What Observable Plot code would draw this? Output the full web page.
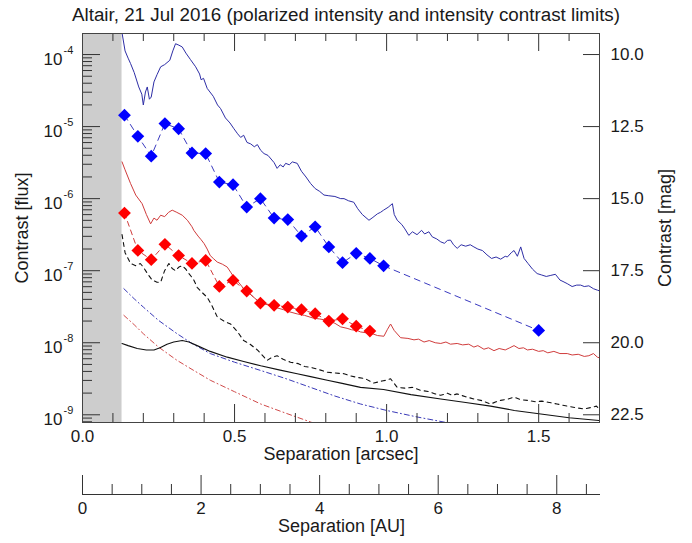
<!DOCTYPE html>
<html><head><meta charset="utf-8">
<script src="https://cdn.jsdelivr.net/npm/d3@7"></script>
<script src="https://cdn.jsdelivr.net/npm/@observablehq/plot@0.6"></script>
<style>
body{margin:0;background:#fff;font-family:"Liberation Sans",Arial,Helvetica,sans-serif;}
#title{height:28px;line-height:29px;font-size:18.8px;text-align:center;width:692px;color:#1a1a1a;white-space:nowrap;}
svg{display:block;}
</style></head><body>
<div id="title">Altair, 21 Jul 2016 (polarized intensity and intensity contrast limits)</div>
<div id="main"></div>
<div id="au"></div>
<script>
// ---------------- data ----------------
const maskRadius = 0.13;            // arcsec, coronagraph mask (grey)
const auPerArcsec = 5.13;           // distance of Altair in pc
const xTicksMajor = [0, 0.5, 1.0, 1.5];
const xTicksMinor = [0.1,0.2,0.3,0.4,0.6,0.7,0.8,0.9,1.1,1.2,1.3,1.4,1.6,1.7];
const yTickExponents = [-4, -5, -6, -7, -8, -9];
const magTicks = [10.0, 12.5, 15.0, 17.5, 20.0, 22.5];
const auTicksMajor = [0, 2, 4, 6, 8];
const auTicksMinor = [0.5,1,1.5,2.5,3,3.5,4.5,5,5.5,6.5,7,7.5,8.5];

// diamonds: polarized intensity (blue) and intensity (red) contrast
const sepBlueDiamonds = [0.138,0.182,0.226,0.271,0.316,0.36,0.405,0.45,0.495,0.54,0.585,0.63,0.675,0.72,0.765,0.81,0.855,0.90,0.945,0.99,1.50];
const blueDiamonds = [1.44e-5,7.33e-6,3.89e-6,1.10e-5,9.33e-6,4.30e-6,4.22e-6,1.70e-6,1.56e-6,7.64e-7,1.0e-6,5.37e-7,5.13e-7,3.02e-7,4.07e-7,2.14e-7,1.29e-7,1.74e-7,1.48e-7,1.17e-7,1.48e-8];
const sepRedDiamonds = [0.138,0.182,0.226,0.271,0.316,0.36,0.405,0.45,0.495,0.54,0.585,0.63,0.675,0.72,0.765,0.81,0.855,0.90,0.945];
const redDiamonds = [6.31e-7,1.91e-7,1.42e-7,2.32e-7,1.62e-7,1.26e-7,1.39e-7,6.05e-8,7.33e-8,5.21e-8,3.55e-8,3.31e-8,3.13e-8,2.88e-8,2.53e-8,2.0e-8,2.15e-8,1.70e-8,1.45e-8];

// curves, stored as log10(contrast)
const sepBlueLine = [0.13,0.14,0.15,0.158,0.17,0.185,0.195,0.2,0.207,0.213,0.22,0.226,0.235,0.245,0.257,0.27,0.287,0.297,0.306,0.317,0.328,0.34,0.355,0.372,0.385,0.39,0.398,0.41,0.43,0.444,0.454,0.47,0.485,0.498,0.51,0.52,0.53,0.541,0.553,0.565,0.575,0.586,0.597,0.61,0.62,0.63,0.64,0.65,0.66,0.668,0.68,0.69,0.706,0.72,0.735,0.75,0.765,0.78,0.794,0.81,0.83,0.849,0.86,0.875,0.892,0.905,0.92,0.942,0.955,0.97,0.98,0.99,1.005,1.019,1.025,1.035,1.05,1.06,1.073,1.085,1.1,1.115,1.125,1.139,1.15,1.165,1.178,1.19,1.2,1.21,1.22,1.232,1.245,1.26,1.275,1.287,1.3,1.315,1.33,1.345,1.36,1.375,1.39,1.397,1.41,1.419,1.43,1.441,1.452,1.465,1.48,1.495,1.51,1.525,1.54,1.555,1.57,1.58,1.594,1.61,1.625,1.638,1.65,1.665,1.68,1.693,1.70];
const logBlueLine = [-3.70,-3.95,-4.05,-4.125,-4.25,-4.45,-4.55,-4.70,-4.52,-4.45,-4.62,-4.59,-4.38,-4.28,-4.17,-4.14,-4.08,-3.95,-3.85,-3.87,-3.895,-3.98,-4.07,-4.17,-4.27,-4.35,-4.33,-4.47,-4.58,-4.70,-4.75,-4.88,-4.95,-5.03,-5.10,-5.15,-5.12,-5.22,-5.24,-5.28,-5.25,-5.33,-5.375,-5.40,-5.45,-5.50,-5.58,-5.53,-5.56,-5.51,-5.53,-5.49,-5.51,-5.62,-5.70,-5.79,-5.86,-5.90,-5.95,-5.96,-5.97,-6.0,-6.0,-6.03,-6.05,-6.14,-6.22,-6.30,-6.26,-6.21,-6.19,-6.16,-6.12,-6.07,-6.22,-6.30,-6.36,-6.42,-6.51,-6.46,-6.50,-6.44,-6.49,-6.46,-6.53,-6.56,-6.60,-6.62,-6.58,-6.575,-6.64,-6.69,-6.64,-6.66,-6.64,-6.67,-6.70,-6.72,-6.78,-6.83,-6.81,-6.84,-6.80,-6.81,-6.75,-6.72,-6.80,-6.67,-6.83,-6.90,-6.98,-7.04,-7.06,-7.08,-7.065,-7.05,-7.13,-7.15,-7.18,-7.22,-7.20,-7.20,-7.22,-7.21,-7.25,-7.27,-7.28];

const sepRedLine = [0.13,0.14,0.158,0.175,0.196,0.21,0.224,0.235,0.245,0.257,0.27,0.283,0.295,0.31,0.328,0.345,0.36,0.366,0.38,0.39,0.40,0.41,0.42,0.43,0.443,0.46,0.476,0.487,0.498,0.515,0.53,0.55,0.574,0.6,0.63,0.66,0.68,0.706,0.73,0.76,0.78,0.805,0.83,0.849,0.87,0.885,0.903,0.914,0.93,0.95,0.97,0.991,1.002,1.013,1.025,1.046,1.07,1.09,1.105,1.123,1.14,1.16,1.178,1.195,1.21,1.232,1.25,1.27,1.287,1.3,1.32,1.335,1.353,1.37,1.39,1.405,1.419,1.435,1.45,1.463,1.48,1.5,1.515,1.53,1.55,1.57,1.594,1.61,1.63,1.65,1.665,1.68,1.693,1.70];
const logRedLine = [-5.49,-5.60,-5.79,-5.95,-6.07,-6.22,-6.35,-6.27,-6.30,-6.23,-6.25,-6.19,-6.16,-6.19,-6.23,-6.30,-6.39,-6.44,-6.52,-6.57,-6.625,-6.70,-6.79,-6.83,-6.88,-6.91,-6.95,-7.02,-7.09,-7.17,-7.25,-7.32,-7.41,-7.46,-7.505,-7.54,-7.57,-7.60,-7.62,-7.66,-7.67,-7.69,-7.73,-7.78,-7.80,-7.82,-7.83,-7.85,-7.86,-7.87,-7.90,-7.91,-7.82,-7.74,-7.83,-7.93,-7.94,-7.96,-7.95,-7.99,-7.97,-8.0,-8.01,-7.99,-8.02,-8.01,-8.03,-8.02,-8.06,-8.04,-8.09,-8.07,-8.11,-8.08,-8.10,-8.07,-8.04,-8.08,-8.07,-8.10,-8.09,-8.12,-8.11,-8.14,-8.12,-8.15,-8.15,-8.17,-8.16,-8.19,-8.18,-8.15,-8.20,-8.21];

const sepBlackLine = [0.13,0.15,0.18,0.21,0.235,0.255,0.278,0.30,0.328,0.35,0.377,0.42,0.476,0.53,0.586,0.65,0.706,0.75,0.805,0.85,0.914,0.99,1.08,1.178,1.26,1.342,1.42,1.507,1.6,1.70];
const logBlackLine = [-8.01,-8.04,-8.08,-8.10,-8.10,-8.07,-8.02,-7.99,-7.97,-7.99,-8.04,-8.12,-8.20,-8.26,-8.32,-8.38,-8.43,-8.47,-8.52,-8.56,-8.62,-8.65,-8.72,-8.78,-8.83,-8.88,-8.94,-8.99,-9.04,-9.08];

const sepBlackDashed = [0.13,0.14,0.158,0.175,0.19,0.20,0.215,0.229,0.245,0.257,0.27,0.284,0.295,0.306,0.317,0.328,0.34,0.35,0.365,0.377,0.39,0.41,0.425,0.443,0.465,0.487,0.51,0.53,0.548,0.563,0.575,0.586,0.597,0.607,0.62,0.64,0.66,0.684,0.71,0.73,0.75,0.775,0.805,0.83,0.86,0.88,0.903,0.93,0.958,0.985,1.0,1.013,1.035,1.06,1.085,1.112,1.14,1.16,1.178,1.2,1.215,1.232,1.26,1.287,1.31,1.342,1.36,1.375,1.4,1.419,1.44,1.463,1.49,1.51,1.53,1.56,1.594,1.62,1.65,1.67,1.69,1.70];
const logBlackDashed = [-6.50,-6.75,-6.90,-6.93,-6.90,-6.95,-7.05,-7.13,-7.16,-7.16,-7.00,-6.90,-6.97,-7.00,-6.95,-6.93,-6.98,-7.04,-7.12,-7.23,-7.29,-7.37,-7.48,-7.64,-7.70,-7.74,-7.85,-7.97,-8.01,-8.06,-8.10,-8.15,-8.20,-8.245,-8.21,-8.18,-8.23,-8.27,-8.29,-8.33,-8.34,-8.37,-8.41,-8.42,-8.43,-8.46,-8.48,-8.50,-8.56,-8.53,-8.52,-8.50,-8.62,-8.63,-8.62,-8.66,-8.68,-8.71,-8.73,-8.70,-8.73,-8.71,-8.75,-8.78,-8.80,-8.85,-8.82,-8.80,-8.78,-8.755,-8.79,-8.80,-8.82,-8.81,-8.825,-8.85,-8.88,-8.90,-8.92,-8.90,-8.88,-8.92];

const sepBlueDashDot = [0.136,0.17,0.20,0.25,0.311,0.36,0.42,0.50,0.586,0.67,0.75,0.83,0.914,1.0,1.1,1.2];
const logBlueDashDot = [-7.25,-7.39,-7.505,-7.69,-7.875,-8.01,-8.15,-8.27,-8.385,-8.50,-8.62,-8.74,-8.85,-8.94,-9.03,-9.11];
const sepRedDashDot = [0.136,0.17,0.20,0.25,0.311,0.36,0.42,0.50,0.586,0.67,0.75,0.78];
const logRedDashDot = [-7.62,-7.75,-7.875,-8.06,-8.245,-8.37,-8.52,-8.68,-8.85,-8.98,-9.10,-9.15];

// ---------------- layout helpers ----------------
const W = 692;
const xMax = 1.70;
const yLo = 10 ** -9.107, yHi = 10 ** -3.708;
const frameTop = 5, frameBottom = 48, mL = 82, mR = 93, H = 442;
const pxPerArcsec = (W - mL - mR) / xMax;
const pxPerDecade = (H - frameTop - frameBottom) / Math.log10(yHi / yLo);
const dxA = px => px / pxPerArcsec;           // pixel length -> arcsec
const fy = px => 10 ** (px / pxPerDecade);     // pixel length -> log factor

const toRows = (xs, ys, log) => xs.map((x, i) => ({x, y: log ? 10 ** ys[i] : ys[i]}));
const blueLineRows = toRows(sepBlueLine, logBlueLine, true);
const redLineRows = toRows(sepRedLine, logRedLine, true);
const blackLineRows = toRows(sepBlackLine, logBlackLine, true);
const blackDashedRows = toRows(sepBlackDashed, logBlackDashed, true);
const blueDDRows = toRows(sepBlueDashDot, logBlueDashDot, true);
const redDDRows = toRows(sepRedDashDot, logRedDashDot, true);
const blueDiaRows = toRows(sepBlueDiamonds, blueDiamonds, false);
const redDiaRows = toRows(sepRedDiamonds, redDiamonds, false);

const yMinor = [];
for (const e of [-10,-9,-8,-7,-6,-5,-4]) for (let k = 2; k <= 9; k++) {
  const v = k * 10 ** e; if (v > yLo && v < yHi) yMinor.push(v);
}
const yMajor = yTickExponents.map(e => 10 ** e);
const magToFlux = m => 10 ** (-m / 2.5);

const diamond = {draw(ctx, size) {
  const r = Math.sqrt(size / 2);
  ctx.moveTo(0, -r); ctx.lineTo(r, 0); ctx.lineTo(0, r); ctx.lineTo(-r, 0); ctx.closePath();
}};

const font = '"Liberation Sans", Arial, Helvetica, sans-serif';
const tickStroke = "#333";
const labelSize = 18, tickSize = 17;

const main = Plot.plot({
  width: W, height: H,
  marginLeft: mL, marginRight: mR, marginTop: frameTop, marginBottom: frameBottom,
  x: {domain: [0, xMax], axis: null},
  y: {type: "log", domain: [yLo, yHi], axis: null},
  style: {fontFamily: font, fontSize: "16px", background: "white", color: "#1a1a1a"},
  marks: [
    Plot.rect([maskRadius], {x1: 0, x2: d => d, y1: yLo, y2: yHi, fill: "#cdcdcd"}),
    // curves
    Plot.line(redDDRows, {x: "x", y: "y", stroke: "#d04a4a", strokeWidth: 1, strokeDasharray: "5,3,1,3", clip: true}),
    Plot.line(blueDDRows, {x: "x", y: "y", stroke: "#3a3ab8", strokeWidth: 1, strokeDasharray: "5,3,1,3", clip: true}),
    Plot.line(blackLineRows, {x: "x", y: "y", stroke: "#111", strokeWidth: 1.1, clip: true}),
    Plot.line(blackDashedRows, {x: "x", y: "y", stroke: "#111", strokeWidth: 1.1, strokeDasharray: "4,4", clip: true}),
    Plot.line(redLineRows, {x: "x", y: "y", stroke: "#d03c3c", strokeWidth: 1, clip: true}),
    Plot.line(blueLineRows, {x: "x", y: "y", stroke: "#2e2ea6", strokeWidth: 1, clip: true}),
    Plot.line(redDiaRows, {x: "x", y: "y", stroke: "#d03c3c", strokeWidth: 1, strokeDasharray: "5,4", clip: true}),
    Plot.line(blueDiaRows, {x: "x", y: "y", stroke: "#3a3ac0", strokeWidth: 1, strokeDasharray: "6,5", clip: true}),
    Plot.dot(redDiaRows, {x: "x", y: "y", symbol: diamond, r: 5.1, fill: "#ff0000", stroke: null}),
    Plot.dot(blueDiaRows, {x: "x", y: "y", symbol: diamond, r: 5.1, fill: "#0000ff", stroke: null}),
    // ticks: bottom & top
    Plot.ruleX(xTicksMajor, {y1: yLo, y2: yLo * fy(18), stroke: tickStroke}),
    Plot.ruleX(xTicksMinor, {y1: yLo, y2: yLo * fy(9), stroke: tickStroke}),
    Plot.ruleX(xTicksMajor, {y1: yHi, y2: yHi / fy(18), stroke: tickStroke}),
    Plot.ruleX(xTicksMinor, {y1: yHi, y2: yHi / fy(8), stroke: tickStroke}),
    // ticks: left (flux) & right (mag)
    Plot.ruleY(yMajor, {x1: 0, x2: dxA(18), stroke: tickStroke}),
    Plot.ruleY(yMinor, {x1: 0, x2: dxA(10), stroke: tickStroke}),
    Plot.ruleY(magTicks, {y: magToFlux, x1: xMax - dxA(16), x2: xMax, stroke: tickStroke}),
    Plot.frame({stroke: "#444", strokeWidth: 1}),
    // tick labels
    Plot.text(xTicksMajor, {x: d => d, y: yLo, text: d => d.toFixed(1), dy: 14, fontSize: tickSize}),
    Plot.text(yTickExponents, {x: 0, y: e => 10 ** e, text: () => "10", dx: -20, dy: 5, textAnchor: "end", fontSize: tickSize}),
    Plot.text(yTickExponents, {x: 0, y: e => 10 ** e, text: e => String(e), dx: -19, dy: -4, textAnchor: "start", fontSize: 11}),
    Plot.text(magTicks, {x: xMax, y: magToFlux, text: m => m.toFixed(1), dx: 11, textAnchor: "start", fontSize: tickSize}),
    // axis titles
    Plot.text(["Separation [arcsec]"], {text: d => d, frameAnchor: "bottom", lineAnchor: "middle", dy: 32, fontSize: labelSize}),
    Plot.text(["Contrast [flux]"], {text: d => d, frameAnchor: "left", textAnchor: "middle", lineAnchor: "middle", dx: -60, rotate: -90, fontSize: labelSize}),
    Plot.text(["Contrast [mag]"], {text: d => d, frameAnchor: "right", textAnchor: "middle", lineAnchor: "middle", dx: 66, rotate: -90, fontSize: labelSize})
  ]
});
document.getElementById("main").append(main);

// ---------------- AU axis ----------------
const auMax = (xMax + dxA(1)) * auPerArcsec;
const auH = 543 - 28 - H;
const auSvg = Plot.plot({
  width: W, height: auH,
  marginLeft: mL, marginRight: mR - 1, marginTop: 0, marginBottom: 0,
  x: {domain: [0, auMax], axis: null},
  y: {domain: [0, 24], range: [24, 0], axis: null},
  style: {fontFamily: font, fontSize: "16px", background: "white", color: "#1a1a1a"},
  marks: [
    Plot.ruleY([0], {x1: 0, x2: auMax, stroke: tickStroke}),
    Plot.ruleX(auTicksMajor, {y1: 0, y2: 19, stroke: tickStroke}),
    Plot.ruleX(auTicksMinor, {y1: 0, y2: 10, stroke: tickStroke}),
    Plot.text(auTicksMajor, {x: d => d, y: 0, text: d => String(d), dy: 14, fontSize: tickSize}),
    Plot.text(["Separation [AU]"], {text: d => d, x: auMax / 2, y: 0, dy: 32, fontSize: labelSize})
  ]
});
document.getElementById("au").append(auSvg);
</script>
</body></html>
